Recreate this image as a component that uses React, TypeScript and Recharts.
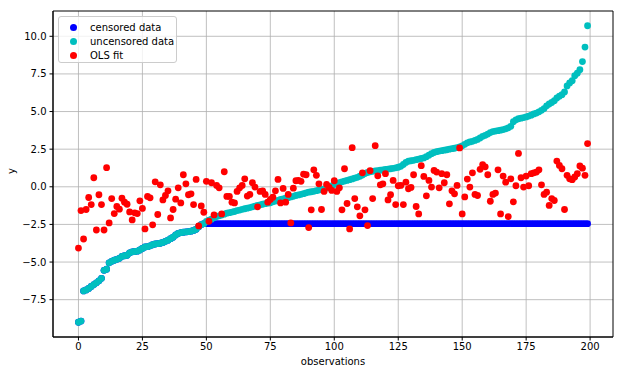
import React from "react";
import { ScatterChart, Scatter, XAxis, YAxis, CartesianGrid, ReferenceArea } from "recharts";

const CENSOR_LEVEL = -2.45;

const uncensored: number[] = [
  -9.0, -8.92, -6.92, -6.85, -6.75, -6.62, -6.5, -6.38, -6.25, -6.08,
  -5.55, -5.48, -5.05, -4.95, -4.88, -4.82, -4.75, -4.62, -4.58, -4.55,
  -4.4, -4.32, -4.3, -4.28, -4.2, -4.1, -4.0, -3.98, -3.92, -3.85,
  -3.8, -3.78, -3.75, -3.7, -3.62, -3.55, -3.45, -3.35, -3.2, -3.1,
  -3.05, -3.02, -3.0, -2.98, -2.95, -2.9, -2.82, -2.65, -2.52, -2.45,
  -2.3, -2.22, -2.15, -2.05, -1.98, -1.93, -1.88, -1.82, -1.75, -1.72,
  -1.68, -1.64, -1.58, -1.55, -1.5, -1.46, -1.42, -1.38, -1.33, -1.28,
  -1.24, -1.2, -1.16, -1.12, -1.09, -1.06, -1.0, -0.95, -0.9, -0.84,
  -0.8, -0.76, -0.72, -0.67, -0.63, -0.58, -0.54, -0.5, -0.46, -0.4,
  -0.36, -0.33, -0.3, -0.26, -0.22, -0.18, -0.14, -0.08, 0.0, 0.06,
  0.15, 0.22, 0.28, 0.33, 0.38, 0.42, 0.47, 0.52, 0.58, 0.63,
  0.7, 0.78, 0.88, 0.95, 1.0, 1.03, 1.06, 1.08, 1.1, 1.13,
  1.15, 1.18, 1.2, 1.23, 1.26, 1.3, 1.36, 1.48, 1.62, 1.7,
  1.73, 1.76, 1.8, 1.84, 1.88, 1.92, 2.0, 2.1, 2.2, 2.28,
  2.33, 2.37, 2.4, 2.43, 2.46, 2.5, 2.53, 2.56, 2.6, 2.65,
  2.72, 2.82, 2.92, 2.98, 3.02, 3.08, 3.15, 3.25, 3.35, 3.42,
  3.5, 3.6, 3.67, 3.7, 3.73, 3.76, 3.8, 3.85, 3.92, 4.02,
  4.32, 4.45, 4.52, 4.56, 4.6, 4.64, 4.7, 4.76, 4.84, 4.9,
  4.98, 5.08, 5.2, 5.38, 5.5, 5.6, 5.72, 5.9, 6.02, 6.12,
  6.3, 6.7, 6.9, 7.05, 7.38, 7.55, 7.78, 8.32, 9.28, 10.7,
];

const olsFit: number[] = [
  -4.07, -1.58, -3.47, -1.51, -0.71, -1.18, 0.6, -2.87, -0.53, -1.18,
  -2.87, 1.27, -2.4, -0.78, -1.78, -1.31, -1.49, -0.76, -1.02, -1.16,
  -1.67, -2.2, -1.73, -1.78, -0.93, -1.44, -2.8, -0.64, -0.73, -2.53,
  0.33, -1.84, 0.13, -0.87, -0.58, -0.27, -2.07, -1.51, -0.82, -0.07,
  -1.07, 0.8, 0.2, -0.53, -0.47, -1.18, 0.49, -2.6, -1.27, -1.69,
  0.36, -2.29, 0.27, -1.87, 0.09, -0.07, -1.8, 1.0, -0.64, -0.64,
  -1.02, -1.07, -0.31, -0.07, 0.09, 0.53, -0.62, -0.51, 0.27, -0.02,
  -1.33, -0.31, -0.27, -0.51, -1.02, -0.84, -0.69, -0.27, 0.49, -1.07,
  -0.11, -1.02, -0.51, -2.4, -0.09, 0.4, 0.42, 0.36, 0.84, 0.8,
  -2.71, -1.53, 1.13, 0.76, 0.2, -1.51, -0.31, 0.16, -0.04, -0.24,
  0.4, -0.31, -0.07, -1.53, 1.2, -1.11, -2.8, 2.6, -0.78, -1.33,
  -1.93, 0.93, -1.53, -2.58, 1.07, -0.78, 2.73, 0.73, 0.13, 0.2,
  0.87, -0.87, -0.53, 0.42, -1.18, 0.07, 0.09, -1.18, 0.31, -0.13,
  -0.04, 0.8, -1.31, -1.8, 1.4, 0.69, -0.6, 0.42, -0.02, 1.09,
  0.98, -0.07, 0.87, 0.27, 0.8, -1.13, -0.27, -0.47, 0.09, 2.58,
  -1.8, -0.67, 0.51, -0.02, 0.93, -0.51, -0.58, 1.16, 1.47, 1.33,
  0.8, -0.96, -0.51, -0.42, 1.13, -1.8, 0.71, 0.31, -1.98, 0.53,
  -1.0, 0.07, 2.22, 0.6, -0.02, 0.71, 0.07, 0.87, 0.93, 0.98,
  1.13, 0.13, -0.51, -0.36, -1.24, -0.78, -0.91, 1.71, 1.42, 1.2,
  -1.51, 0.76, 0.53, 0.47, 0.65, 0.87, 1.38, 1.24, 0.76, 2.87,
];

const xTicks = [0, 25, 50, 75, 100, 125, 150, 175, 200];
const yTicks = [-7.5, -5.0, -2.5, 0.0, 2.5, 5.0, 7.5, 10.0];

const legendItems = [
  { label: "censored data", color: "#0000ff" },
  { label: "uncensored data", color: "#00bfbf" },
  { label: "OLS fit", color: "#ff0000" },
];

const X_DOMAIN: [number, number] = [-9.95, 208.95];
const Y_DOMAIN: [number, number] = [-9.98, 11.68];

const uncensoredData = uncensored.map((y, i) => ({ x: i, y }));
const censoredData = uncensored.map((y, i) => ({ x: i, y: Math.min(y, CENSOR_LEVEL) }));
const olsData = olsFit.map((y, i) => ({ x: i, y }));

const FONT = "DejaVu Sans, sans-serif";
const R = 3.4;

const dot = (color: string) => (props: any) =>
  <circle cx={props.cx} cy={props.cy} r={R} fill={color} stroke="none" />;

const fmt = (v: number) => {
  const s = v.toFixed(1);
  return v < 0 ? "\u2212" + s.slice(1) : s;
};

export default function App() {
  return (
    <div style={{ position: "absolute", left: 0, top: 0, width: 621, height: 375, background: "#fff" }}>
      <ScatterChart width={621} height={375} margin={{ top: 11, right: 8, bottom: 8, left: 8 }}>
        <CartesianGrid stroke="#b0b0b0" strokeWidth={0.8} horizontalValues={yTicks} verticalValues={xTicks} />
        <XAxis
          type="number"
          dataKey="x"
          domain={X_DOMAIN}
          ticks={xTicks}
          interval={0}
          height={30}
          tickSize={3.5}
          tickMargin={2}
          stroke="#000"
          tick={{ fill: "#000", fontSize: 10, fontFamily: FONT }}
          label={{ value: "observations", position: "insideBottom", offset: 2, fill: "#000", fontSize: 10, fontFamily: FONT }}
        />
        <YAxis
          type="number"
          dataKey="y"
          domain={Y_DOMAIN}
          ticks={yTicks}
          interval={0}
          width={45}
          tickSize={3.5}
          tickMargin={3}
          stroke="#000"
          tickFormatter={fmt}
          tick={{ fill: "#000", fontSize: 10, fontFamily: FONT }}
          label={{ value: "y", angle: -90, position: "insideLeft", offset: 0, dx: 3, fill: "#000", fontSize: 10, fontFamily: FONT }}
        />
        <Scatter data={censoredData} fill="#0000ff" shape={dot("#0000ff")} isAnimationActive={false} />
        <Scatter data={uncensoredData} fill="#00bfbf" shape={dot("#00bfbf")} isAnimationActive={false} />
        <Scatter data={olsData} fill="#ff0000" shape={dot("#ff0000")} isAnimationActive={false} />
        <ReferenceArea
          x1={X_DOMAIN[0]}
          x2={X_DOMAIN[1]}
          y1={Y_DOMAIN[0]}
          y2={Y_DOMAIN[1]}
          fill="none"
          fillOpacity={0}
          stroke="#000"
          strokeWidth={1}
          ifOverflow="visible"
        />
      </ScatterChart>
      <div
        style={{
          position: "absolute",
          left: 58,
          top: 16,
          width: 119,
          height: 47,
          border: "1px solid #cccccc",
          borderRadius: 3,
          background: "rgba(255,255,255,0.8)",
          fontFamily: FONT,
          fontSize: 10,
          color: "#000",
          boxSizing: "border-box",
        }}
      >
        {legendItems.map((it, k) => (
          <div key={it.label} style={{ position: "absolute", left: 0, top: 3 + k * 14.2, height: 14, display: "flex", alignItems: "center" }}>
            <span style={{ display: "inline-block", width: 7, height: 7, borderRadius: "50%", background: it.color, marginLeft: 11 }} />
            <span style={{ marginLeft: 13, whiteSpace: "nowrap" }}>{it.label}</span>
          </div>
        ))}
      </div>
    </div>
  );
}
